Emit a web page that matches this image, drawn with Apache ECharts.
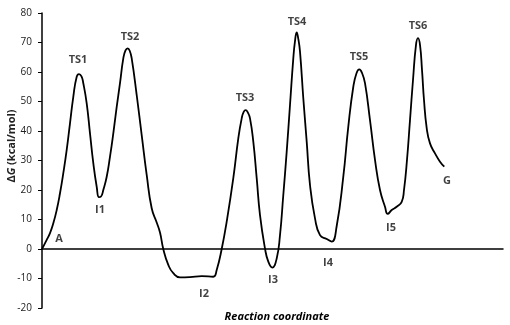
<!DOCTYPE html>
<html>
<head>
<meta charset="utf-8">
<script src="https://cdn.jsdelivr.net/npm/echarts@6/dist/echarts.min.js"></script>
<style>html,body{margin:0;padding:0;background:#fff}#c{width:510px;height:325px}</style>
</head>
<body>
<div id="c"></div>
<script>
// Reaction coordinate (arbitrary units) and free energy ΔG (kcal/mol)
var rc = [0,4.7,8,11.3,14.7,18,21.3,24.7,28,31.3,34.7,37,39.5,41.3,44.7,48,51.3,54.7,57,59,61.3,64.7,68,71.3,74.7,78,81.3,83.5,85.7,87.7,89.7,94.7,99.7,104.7,109.7,114.7,118,121.3,126.3,131.3,138,148,159.7,171.3,174.7,179.7,184.7,191.3,196.3,199.7,201.7,203.7,205.8,208,211.3,214.7,218,223,226.3,230.3,234.7,238,241.3,244.7,248,251.3,253,254.7,256.3,258,261.3,264.7,268,273,278,284.7,289.7,294.7,301.3,306.3,311.3,314.5,317.3,320,323,328,333,338,343,345.7,349.7,354.7,359.7,362,365,368,371,374,376,378,380,382,384.7,388,393,398,402.3];
var dG = [0,3.1,5.4,8.7,13.2,18.9,25.7,33.6,42.6,51.6,58.4,59.3,58.5,56.2,49.4,39.2,29.1,21.1,17.6,17.8,20,24.5,31.3,39.2,48.2,56.2,64.6,67.3,68.0,67.2,64.6,52.2,38.6,25.1,13.8,9.0,5.6,0,-5.4,-8.2,-9.6,-9.5,-9.2,-9.4,-7.1,0,9.3,24,37.5,44.3,46.5,47.1,46.3,44.3,36.4,24,11.5,0.2,-4.3,-6.3,-3.2,4.7,18.3,33,48.8,64.6,70.5,73.4,71.2,66.9,51.1,36.4,21.7,10.4,4.7,3.4,2.5,7.8,24.5,41.5,55,59.6,60.9,59.7,56.2,43.7,30.2,20,14.3,11.9,13.2,14.3,16,20,30.2,43.7,57.3,69.2,71.5,69.2,60.7,50.5,41,35.8,32.4,29.6,27.9];
// Species labels and their anchor positions (same units as the axes)
var labelNames = ['A','TS1','I1','TS2','I2','TS3','I3','TS4','I4','TS5','I5','TS6','G'];
var labelX = [17,36,58,88,162,203,231,255,286,317,349,376,405];
var labelY = [3.4,64.1,13.2,71.9,-15.3,51.2,-10.5,76.9,-4.7,65.1,7.1,75.6,23.1];
var yTicks = {min:-20, max:80, step:10};

var curve = rc.map(function(x,i){return [x, dG[i]];});
var labels = labelNames.map(function(n,i){return {name:n, value:[labelX[i], labelY[i]]};});

var chart = echarts.init(document.getElementById('c'), null, {renderer:'canvas'});
chart.setOption({
  animation:false,
  backgroundColor:'#fff',
  grid:{left:42, right:7, top:13, bottom:17, containLabel:false, outerBoundsMode:'none'},
  xAxis:{type:'value', min:0, max:461,
    axisLine:{onZero:true, lineStyle:{color:'#000', width:1.5}},
    axisTick:{show:false}, axisLabel:{show:false}, splitLine:{show:false},
    name:'Reaction coordinate', nameLocation:'middle', nameGap:3,
    nameTextStyle:{fontFamily:'Open Sans', fontSize:11, fontStyle:'italic', fontWeight:'bold', color:'#000', padding:[0,0,0,9]}
  },
  yAxis:{type:'value', min:yTicks.min, max:yTicks.max, interval:yTicks.step,
    axisLine:{show:true, onZero:false, lineStyle:{color:'#000', width:1.5}},
    axisTick:{show:true, length:4, lineStyle:{color:'#000'}},
    axisLabel:{margin:10, fontFamily:'Open Sans', fontSize:10, color:'#222'},
    splitLine:{show:false}
  },
  graphic:[{type:'text', x:12, y:146, rotation:Math.PI/2,
    style:{text:'{n|Δ}{i|G}{n| (kcal/mol)}', textAlign:'center', textVerticalAlign:'middle',
      rich:{n:{fontFamily:'Open Sans', fontSize:11, fontWeight:'bold', fill:'#222'},
            i:{fontFamily:'Open Sans', fontSize:11, fontWeight:'bold', fontStyle:'italic', fill:'#222'}}}}],
  series:[
    {type:'line', data:curve, smooth:0.5, showSymbol:false, lineStyle:{color:'#000', width:1.8}, z:3},
    {type:'scatter', data:labels, symbolSize:0, silent:true,
      label:{show:true, position:'inside', formatter:'{b}', fontFamily:'Open Sans', fontSize:11, fontWeight:'bold', color:'#111'}}
  ]
});
</script>
</body>
</html>
